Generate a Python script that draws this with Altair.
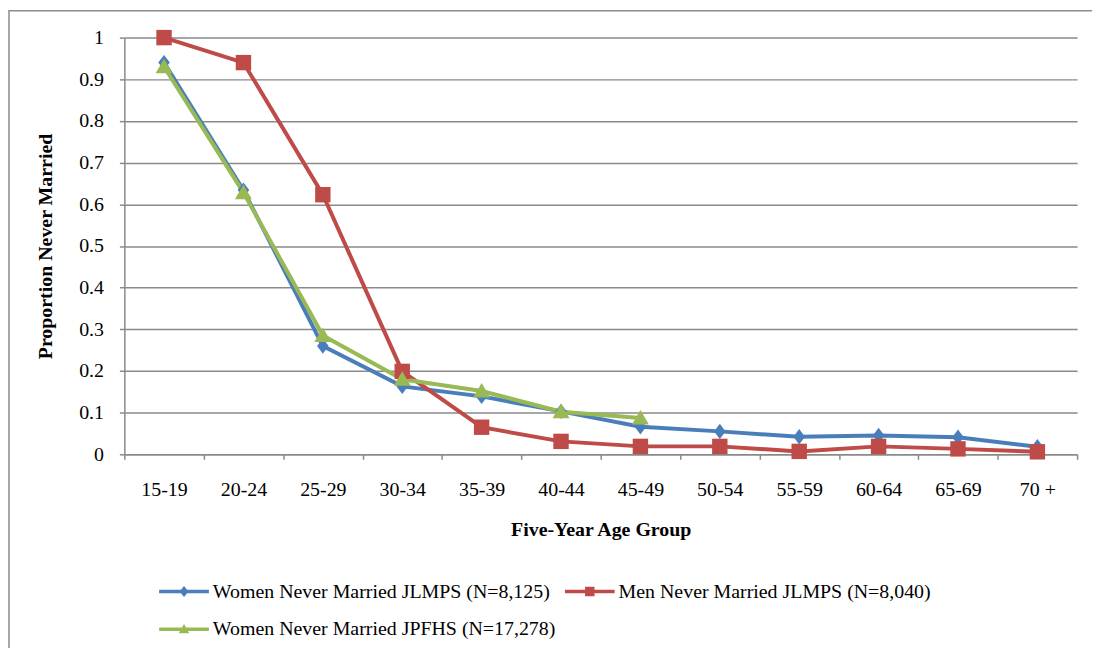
import altair as alt
import pandas as pd

age_groups = ["15-19", "20-24", "25-29", "30-34", "35-39", "40-44",
              "45-49", "50-54", "55-59", "60-64", "65-69", "70 +"]

series_names = [
    "Women Never Married JLMPS (N=8,125)",
    "Men Never Married JLMPS (N=8,040)",
    "Women Never Married JPFHS (N=17,278)",
]

women_jlmps = [0.94, 0.634, 0.26, 0.163, 0.139, 0.103, 0.066, 0.055, 0.042, 0.045, 0.041, 0.018]
men_jlmps = [1.0, 0.94, 0.623, 0.199, 0.065, 0.031, 0.019, 0.019, 0.007, 0.019, 0.013, 0.006]
women_jpfhs = [0.93, 0.628, 0.285, 0.18, 0.152, 0.102, 0.087]

colors = ["#4A7EBB", "#BE4B48", "#98B954"]

rows = []
for name, vals in zip(series_names, [women_jlmps, men_jlmps, women_jpfhs]):
    for g, v in zip(age_groups, vals):
        rows.append({"group": g, "series": name, "value": v})
df = pd.DataFrame(rows)

FONT = "Liberation Serif"
FS = 20
GRID = "#8a8a8a"

# marker shapes (unit coords)
marker_paths = [
    "M0,-1L0.75,0L0,1L-0.75,0Z",
    "M-1,-1H1V1H-1Z",
    "M0,-1.05L1.1,0.85H-1.1Z",
]
# legend symbols: filled line segment + marker (same winding so they union)
LINE = "M-5,-0.35H5V0.35H-5Z"
legend_paths = [
    LINE + "M0,-1.1L0.9,0L0,1.1L-0.9,0Z",
    LINE + "M-0.95,-0.95H0.95V0.95H-0.95Z",
    LINE + "M0,-1.05L1.05,0.8H-1.05Z",
]

names_js = "[" + ",".join("'" + n + "'" for n in series_names) + "]"
lpaths_js = "[" + ",".join("'" + p + "'" for p in legend_paths) + "]"
colors_js = "[" + ",".join("'" + c + "'" for c in colors) + "]"
idx = f"indexof({names_js}, datum.value)"

x_enc = alt.X(
    "group:N",
    sort=age_groups,
    scale=alt.Scale(type="band", domain=age_groups, paddingInner=0, paddingOuter=0),
    axis=alt.Axis(
        title="Five-Year Age Group",
        labelAngle=0,
        tickBand="extent",
        domainColor=GRID,
        domainWidth=1.5,
        tickColor=GRID,
        tickWidth=1.5,
        tickSize=5,
        labelPadding=20,
        titlePadding=21,
        grid=False,
    ),
)
y_enc = alt.Y(
    "value:Q",
    scale=alt.Scale(domain=[0, 1], nice=False),
    axis=alt.Axis(
        title="Proportion Never Married",
        values=[0, 0.1, 0.2, 0.3, 0.4, 0.5, 0.6, 0.7, 0.8, 0.9, 1],
        format="~g",
        domainColor=GRID,
        domainWidth=1.5,
        tickColor=GRID,
        tickWidth=1.5,
        tickSize=5,
        labelPadding=16,
        titlePadding=23,
        gridColor=GRID,
        gridWidth=1.5,
    ),
)

color_scale = alt.Scale(domain=series_names, range=colors)

legend = alt.Legend(
    title=None,
    orient="none",
    direction="horizontal",
    legendX=50,
    legendY=547,
    columns=2,
    columnPadding=9,
    rowPadding=18,
    symbolSize=100,
    symbolType=alt.ExprRef(expr=f"{lpaths_js}[{idx}]"),
    symbolStrokeColor=alt.ExprRef(expr=f"{colors_js}[{idx}]"),
    symbolFillColor=alt.ExprRef(expr=f"{colors_js}[{idx}]"),
    symbolStrokeWidth=0,
    symbolOpacity=1,
    labelOffset=19,
    labelFont=FONT,
    labelFontSize=FS,
    labelColor="#000000",
    labelLimit=600,
)

lines = alt.Chart(df).mark_line(strokeWidth=4).encode(
    x=x_enc,
    y=y_enc,
    color=alt.Color("series:N", scale=color_scale, legend=legend),
    detail="series:N",
)

point_layers = []
for name, path in zip(series_names, marker_paths):
    point_layers.append(
        alt.Chart(df)
        .transform_filter(alt.datum.series == name)
        .mark_point(filled=True, size=240, opacity=1, shape=path)
        .encode(
            x=x_enc,
            y=y_enc,
            color=alt.Color("series:N", scale=color_scale, legend=None),
        )
    )

border = alt.Chart(alt.Data(values=[{}])).mark_rect(
    fillOpacity=0, stroke="#8c8c8c", strokeWidth=1.5
).encode(
    x=alt.value(-116), x2=alt.value(990),
    y=alt.value(-27), y2=alt.value(700),
)

chart = alt.layer(border, lines, *point_layers).properties(
    width=958,
    height=419,
    background="white",
    autosize=alt.AutoSizeParams(type="none"),
    padding={"left": 117, "top": 28, "right": 15, "bottom": 193},
).configure_view(stroke=None).configure_axis(
    labelFont=FONT,
    labelFontSize=FS,
    labelColor="#000000",
    titleFont=FONT,
    titleFontSize=FS,
    titleFontWeight="bold",
    titleColor="#000000",
)

chart.save("out.html", embed_options={"renderer": "svg", "actions": False})
